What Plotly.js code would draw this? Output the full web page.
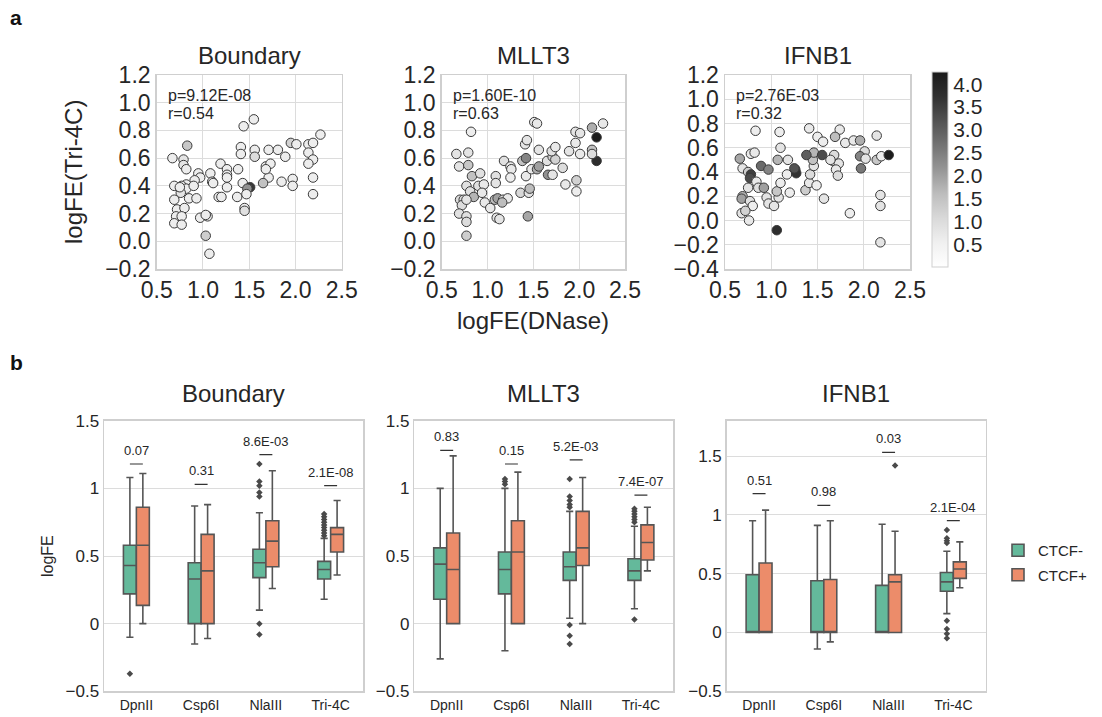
<!DOCTYPE html>
<html><head><meta charset="utf-8">
<script src="https://cdn.plot.ly/plotly-3.0.1.min.js"></script>
<style>html,body{margin:0;padding:0;background:#fff}#chart{width:1102px;height:717px}</style>
</head><body><div id="chart"></div>
<script>
// ---------- Panel a: scatter data (logFE DNase vs logFE Tri-4C, color = value) ----------
const boundaryX = [0.67,1.55,1.44,2.27,0.83,0.79,0.79,0.82,1.41,1.41,1.56,1.56,1.71,1.81,1.89,1.95,2.01,2.14,2.19,2.14,2.19,2.14,1.19,1.26,1.26,1.38,1.68,1.73,1.71,1.68,0.95,1.08,0.97,0.91,0.82,0.77,0.77,0.69,0.82,0.90,1.10,1.11,1.26,1.26,1.43,1.51,1.48,1.65,1.85,1.97,1.97,2.19,2.19,0.69,0.85,0.93,1.17,1.20,1.37,1.47,0.72,0.80,1.45,1.45,0.71,0.77,0.97,1.05,1.03,0.69,0.77,1.03,1.07,0.76,0.75];
const boundaryY = [0.60,0.88,0.83,0.77,0.69,0.59,0.55,0.52,0.68,0.63,0.66,0.61,0.66,0.66,0.61,0.71,0.70,0.70,0.71,0.64,0.59,0.56,0.56,0.52,0.48,0.52,0.54,0.56,0.46,0.52,0.49,0.49,0.46,0.44,0.41,0.40,0.37,0.40,0.38,0.40,0.43,0.42,0.39,0.46,0.42,0.39,0.38,0.42,0.43,0.45,0.40,0.46,0.34,0.30,0.31,0.31,0.32,0.32,0.32,0.34,0.23,0.24,0.24,0.22,0.18,0.18,0.17,0.18,0.19,0.13,0.12,0.04,-0.09,0.35,0.39];
const boundaryC = [0.6,0.6,0.6,0.6,1.4,0.8,0.8,0.6,0.6,0.6,0.6,1.0,0.6,0.6,0.6,1.2,0.6,0.6,0.6,0.6,0.6,0.6,0.6,0.6,0.6,0.6,0.6,0.6,0.6,0.6,0.6,0.6,0.6,0.6,0.6,0.8,0.9,0.6,0.6,0.6,0.6,0.6,0.6,0.6,0.6,3.6,2.2,1.5,0.6,0.6,0.6,0.6,0.6,0.6,0.6,0.6,0.6,0.6,0.6,0.6,0.6,0.6,0.6,0.9,0.6,0.6,0.6,0.6,0.6,0.6,0.6,1.3,0.6,0.8,0.6];

const mlltX = [0.66,0.69,0.79,0.82,0.79,0.83,0.92,0.77,0.81,0.85,0.90,0.96,0.94,0.70,0.74,0.72,0.77,0.69,0.77,0.77,0.77,0.97,1.03,1.08,1.11,1.17,1.22,1.10,1.13,1.09,1.09,1.18,1.25,1.26,1.25,1.36,1.45,1.46,1.44,1.38,1.42,1.41,1.43,1.51,1.54,1.56,1.42,1.48,1.54,1.56,1.66,1.71,1.65,1.71,1.74,1.70,1.74,1.82,1.85,1.89,1.96,2.01,1.96,2.01,1.97,1.97,2.14,2.26,2.19,2.19,2.14,2.14,1.16];
const mlltY = [0.63,0.54,0.64,0.79,0.55,0.47,0.49,0.40,0.36,0.32,0.40,0.41,0.35,0.30,0.30,0.26,0.30,0.20,0.18,0.14,0.04,0.28,0.24,0.30,0.31,0.30,0.31,0.17,0.16,0.47,0.42,0.58,0.54,0.52,0.46,0.35,0.35,0.38,0.18,0.58,0.60,0.70,0.73,0.86,0.85,0.66,0.47,0.52,0.52,0.54,0.48,0.48,0.58,0.61,0.59,0.65,0.68,0.53,0.41,0.65,0.79,0.78,0.71,0.63,0.44,0.36,0.82,0.85,0.75,0.58,0.66,0.63,0.28];
const mlltC = [0.8,0.8,0.8,0.6,1.4,1.5,0.9,0.9,0.9,1.7,0.9,0.7,0.7,1.0,1.0,1.0,0.8,0.9,0.9,1.0,1.3,0.7,0.7,1.6,2.0,0.9,0.7,0.8,0.8,0.9,0.8,0.9,0.7,0.7,0.6,1.1,0.8,1.6,1.9,1.5,2.4,0.8,0.8,0.7,0.7,0.8,0.7,0.7,1.8,2.0,2.2,0.8,0.9,1.2,1.2,0.9,0.7,1.0,0.7,0.8,0.8,0.8,0.7,0.7,1.2,0.6,1.8,0.7,4.2,3.8,1.5,1.0,1.6];

const ifnbX = [0.66,0.83,1.09,1.41,1.50,1.56,1.74,1.69,1.80,1.89,1.96,2.14,2.01,1.96,2.02,2.14,2.19,2.27,0.78,0.82,0.89,0.97,0.69,0.75,0.78,0.77,0.84,0.75,0.86,0.92,0.69,0.68,0.77,0.80,0.68,0.72,0.76,0.95,0.97,1.03,1.08,1.06,1.10,1.17,1.20,1.07,1.18,1.10,1.26,1.27,1.25,1.37,1.41,1.42,1.49,1.46,1.45,1.46,1.38,1.55,1.57,1.67,1.68,1.73,1.70,1.72,1.85,1.97,2.18,2.18,2.18,1.06,1.64];
const ifnbY = [0.51,0.74,0.73,0.76,0.69,0.65,0.75,0.69,0.64,0.66,0.66,0.70,0.57,0.53,0.51,0.50,0.53,0.54,0.55,0.56,0.45,0.42,0.43,0.40,0.38,0.35,0.32,0.27,0.27,0.27,0.20,0.18,0.16,0.12,0.06,0.08,0.00,0.19,0.14,0.12,0.19,0.24,0.31,0.38,0.23,0.50,0.50,0.60,0.42,0.39,0.43,0.25,0.31,0.38,0.29,0.45,0.50,0.56,0.54,0.54,0.18,0.49,0.54,0.47,0.42,0.37,0.06,0.43,0.21,0.12,-0.18,-0.08,0.50];
const ifnbC = [1.9,0.6,0.6,0.7,0.6,0.6,0.7,1.6,0.7,0.7,1.8,0.8,1.0,2.4,0.8,1.4,0.6,4.2,0.7,0.7,2.8,2.4,0.8,1.3,3.5,3.3,0.7,0.8,0.9,2.0,1.7,2.0,0.9,0.6,0.8,1.2,0.7,0.8,0.8,0.8,0.8,1.4,0.6,0.6,0.6,1.7,0.8,0.8,3.4,3.7,3.2,1.3,0.7,1.0,0.6,0.8,1.5,1.7,3.0,3.3,0.8,0.7,1.0,0.8,0.7,1.0,0.6,2.6,0.8,0.8,0.8,3.8,0.8];

const scatterTitles = ['Boundary','MLLT3','IFNB1'];
const pTexts = ['p=9.12E-08','p=1.60E-10','p=2.76E-03'];
const rTexts = ['r=0.54','r=0.63','r=0.32'];
const colorbarTicks = [0.5,1.0,1.5,2.0,2.5,3.0,3.5,4.0];

// ---------- Panel b: box plot summary statistics ----------
const categories = ['DpnII','Csp6I','NlaIII','Tri-4C'];
const groups = ['CTCF-','CTCF+'];
const boxTitles = ['Boundary','MLLT3','IFNB1'];

// Boundary
const bNegLo  = [-0.10,-0.15,0.10,0.18];
const bNegQ1  = [0.22,0.00,0.34,0.33];
const bNegMed = [0.43,0.33,0.45,0.40];
const bNegQ3  = [0.58,0.45,0.55,0.46];
const bNegHi  = [1.08,0.87,0.82,0.63];
const bPosLo  = [0.00,-0.11,0.26,0.36];
const bPosQ1  = [0.135,0.00,0.42,0.53];
const bPosMed = [0.58,0.39,0.61,0.66];
const bPosQ3  = [0.86,0.66,0.76,0.71];
const bPosHi  = [1.11,0.88,1.13,0.91];
const bNegOut = [[-0.37],[],[1.18,1.05,1.02,0.97,0.94,0.00,-0.08],[0.65,0.67,0.69,0.71,0.73,0.75,0.77,0.79,0.81]];
const bPosOut = [[],[],[],[]];
const bPvals  = ['0.07','0.31','8.6E-03','2.1E-08'];
const bPvalY  = [1.18,1.03,1.25,1.02];

// MLLT3
const mNegLo  = [-0.26,-0.20,0.04,0.11];
const mNegQ1  = [0.18,0.22,0.32,0.32];
const mNegMed = [0.44,0.40,0.42,0.39];
const mNegQ3  = [0.56,0.53,0.53,0.48];
const mNegHi  = [1.00,1.00,0.83,0.72];
const mPosLo  = [0.00,0.00,0.00,0.39];
const mPosQ1  = [0.00,0.00,0.43,0.47];
const mPosMed = [0.40,0.53,0.56,0.60];
const mPosQ3  = [0.67,0.76,0.83,0.73];
const mPosHi  = [1.24,1.12,1.08,0.86];
const mNegOut = [[],[1.03,1.05,1.07],[0.86,0.88,0.91,0.94,1.07,-0.01,-0.09,-0.15],[0.75,0.77,0.79,0.81,0.83,0.85,0.03]];
const mPosOut = [[],[],[],[]];
const mPvals  = ['0.83','0.15','5.2E-03','7.4E-07'];
const mPvalY  = [1.28,1.18,1.21,0.95];

// IFNB1
const iNegLo  = [0.00,-0.14,0.00,0.16];
const iNegQ1  = [0.00,0.00,0.00,0.35];
const iNegMed = [0.00,0.00,0.00,0.43];
const iNegQ3  = [0.49,0.44,0.40,0.51];
const iNegHi  = [0.95,0.91,0.92,0.69];
const iPosLo  = [0.00,-0.08,0.00,0.38];
const iPosQ1  = [0.00,0.00,0.00,0.46];
const iPosMed = [0.00,0.00,0.43,0.54];
const iPosQ3  = [0.59,0.45,0.49,0.60];
const iPosHi  = [1.04,0.95,0.86,0.77];
const iNegOut = [[],[],[],[0.87,0.80,0.78,0.76,0.10,0.03,-0.01,-0.05]];
const iPosOut = [[],[],[1.42],[]];
const iPvals  = ['0.51','0.98','0.03','2.1E-04'];
const iPvalY  = [1.18,1.08,1.53,0.95];

// ---------- styles ----------
const W = 1102, H = 717;
const FONT = 'Liberation Sans, Arial, sans-serif';
const TXT = '#262626';
const GRID = '#dcdcdc';
const FRAME = '#cfcfcf';
const colNeg = '#64b99b', colPos = '#ec8c6a';
const px = v => v / W;
const py = v => 1 - v / H;

const scatterDomX = [[156.7,341.7],[441.7,625],[725,910]];
const scatterDomY = [269,75];
const scatterYRange = [[-0.2,1.2],[-0.2,1.2],[-0.4,1.2]];
const boxDomX = [[104,363],[414.3,673.3],[726.7,985.7]];
const boxDomY = [691.3,420.7];
const boxYRange = [[-0.5,1.5],[-0.5,1.5],[-0.5,1.8]];

const traces = [];
const layout = {
  width: W, height: H,
  margin: {l:0,r:0,t:0,b:0},
  paper_bgcolor: '#fff', plot_bgcolor: '#fff',
  font: {family: FONT, color: TXT},
  showlegend: true,
  boxmode: 'overlay',
  coloraxis: {
    cmin: 0, cmax: 4.26,
    colorscale: [[0,'#ffffff'],[0.125,'#f0f0f0'],[0.25,'#d9d9d9'],[0.375,'#bdbdbd'],[0.5,'#969696'],[0.625,'#737373'],[0.75,'#525252'],[0.875,'#303030'],[1,'#1a1a1a']],
    colorbar: {
      x: px(932), xanchor: 'left', xpad: 0, y: py(169.8), yanchor: 'middle', ypad: 0,
      len: 195, lenmode: 'pixels', thickness: 16,
      outlinewidth: 1, outlinecolor: FRAME,
      tickvals: colorbarTicks, ticktext: colorbarTicks.map(v => v.toFixed(1)),
      ticks: '', tickfont: {size: 21, color: TXT, family: FONT}, ticklabelpad: 6
    }
  },
  legend: {x: px(998), y: py(534), xanchor: 'left', yanchor: 'top', font: {size: 15, color: TXT}, tracegroupgap: 2, bgcolor: 'rgba(0,0,0,0)'},
  annotations: [], shapes: []
};

const sData = [[boundaryX,boundaryY,boundaryC],[mlltX,mlltY,mlltC],[ifnbX,ifnbY,ifnbC]];
sData.forEach((d, i) => {
  const n = i + 1;
  const xa = 'xaxis' + (n === 1 ? '' : n), ya = 'yaxis' + (n === 1 ? '' : n);
  layout[xa] = {
    domain: [px(scatterDomX[i][0]), px(scatterDomX[i][1])], anchor: 'y' + (n===1?'':n),
    range: [0.5, 2.5], dtick: 0.5, tick0: 0.5, tickformat: '.1f',
    showgrid: true, gridcolor: GRID, gridwidth: 1, zeroline: false,
    showline: true, mirror: true, linecolor: FRAME, linewidth: 1.5,
    ticks: '', tickfont: {size: 23, color: TXT}, fixedrange: true
  };
  layout[ya] = {
    domain: [py(scatterDomY[0]), py(scatterDomY[1])], anchor: 'x' + (n===1?'':n),
    range: scatterYRange[i], dtick: 0.2, tick0: 0, tickformat: '.1f',
    showgrid: true, gridcolor: GRID, gridwidth: 1, zeroline: false,
    showline: true, mirror: true, linecolor: FRAME, linewidth: 1.5,
    ticks: '', tickfont: {size: 23, color: TXT}, fixedrange: true
  };
  traces.push({
    type: 'scatter', mode: 'markers', x: d[0], y: d[1],
    xaxis: 'x' + (n===1?'':n), yaxis: 'y' + (n===1?'':n),
    marker: {color: d[2], coloraxis: 'coloraxis', size: 9.5, line: {color: '#3a3a3a', width: 1}},
    showlegend: false, hoverinfo: 'skip'
  });
  const cx = (scatterDomX[i][0] + scatterDomX[i][1]) / 2;
  layout.annotations.push({text: scatterTitles[i], xref:'paper', yref:'paper', x: px(cx), y: py(55), xanchor:'center', yanchor:'middle', showarrow:false, font:{size:24, color:TXT}});
  layout.annotations.push({text: pTexts[i], xref:'paper', yref:'paper', x: px(scatterDomX[i][0]+9), y: py(95), xanchor:'left', yanchor:'middle', showarrow:false, font:{size:16, color:TXT}});
  layout.annotations.push({text: rTexts[i], xref:'paper', yref:'paper', x: px(scatterDomX[i][0]+9), y: py(113), xanchor:'left', yanchor:'middle', showarrow:false, font:{size:16, color:TXT}});
});

layout.annotations.push({text:'logFE(DNase)', xref:'paper', yref:'paper', x: px(533), y: py(320), xanchor:'center', yanchor:'middle', showarrow:false, font:{size:24,color:TXT}});
layout.annotations.push({text:'logFE(Tri-4C)', xref:'paper', yref:'paper', x: px(74), y: py(172), xanchor:'center', yanchor:'middle', textangle:-90, showarrow:false, font:{size:24,color:TXT}});
layout.annotations.push({text:'<b>a</b>', xref:'paper', yref:'paper', x: px(8), y: py(18), xanchor:'left', yanchor:'middle', showarrow:false, font:{size:21,color:'#111'}});
layout.annotations.push({text:'<b>b</b>', xref:'paper', yref:'paper', x: px(8), y: py(362), xanchor:'left', yanchor:'middle', showarrow:false, font:{size:21,color:'#111'}});
layout.annotations.push({text:'logFE', xref:'paper', yref:'paper', x: px(47), y: py(556), xanchor:'center', yanchor:'middle', textangle:-90, showarrow:false, font:{size:16,color:TXT}});

const bData = [
  {neg:[bNegLo,bNegQ1,bNegMed,bNegQ3,bNegHi], pos:[bPosLo,bPosQ1,bPosMed,bPosQ3,bPosHi], negOut:bNegOut, posOut:bPosOut, p:bPvals, py:bPvalY},
  {neg:[mNegLo,mNegQ1,mNegMed,mNegQ3,mNegHi], pos:[mPosLo,mPosQ1,mPosMed,mPosQ3,mPosHi], negOut:mNegOut, posOut:mPosOut, p:mPvals, py:mPvalY},
  {neg:[iNegLo,iNegQ1,iNegMed,iNegQ3,iNegHi], pos:[iPosLo,iPosQ1,iPosMed,iPosQ3,iPosHi], negOut:iNegOut, posOut:iPosOut, p:iPvals, py:iPvalY}
];
const OFF = 0.1, BW = 0.2;
bData.forEach((d, i) => {
  const n = i + 4;
  const xr = 'x' + n, yr = 'y' + n;
  layout['xaxis' + n] = {
    domain: [px(boxDomX[i][0]), px(boxDomX[i][1])], anchor: yr,
    range: [-0.5, 3.5], tickvals: categories.map((c, k) => k), ticktext: categories,
    showgrid: false, zeroline: false, showline: true, mirror: true, linecolor: FRAME, linewidth: 1.5,
    ticks: '', tickfont: {size: 14, color: TXT}, fixedrange: true
  };
  layout['yaxis' + n] = {
    domain: [py(boxDomY[0]), py(boxDomY[1])], anchor: xr,
    range: boxYRange[i], dtick: 0.5, tick0: 0,
    showgrid: true, gridcolor: GRID, gridwidth: 1, zeroline: false,
    showline: true, mirror: true, linecolor: FRAME, linewidth: 1.5,
    ticks: '', tickfont: {size: 17, color: TXT}, fixedrange: true
  };
  [[d.neg, -OFF, colNeg, groups[0], d.negOut], [d.pos, OFF, colPos, groups[1], d.posOut]].forEach(g => {
    const s = g[0];
    traces.push({
      type: 'box', xaxis: xr, yaxis: yr, name: g[3], legendgroup: g[3], showlegend: i === 0,
      x: categories.map((c, k) => k + g[1]),
      lowerfence: s[0], q1: s[1], median: s[2], q3: s[3], upperfence: s[4],
      width: BW, whiskerwidth: 0.55, boxpoints: false,
      fillcolor: g[2], line: {color: '#555555', width: 1.6}, hoverinfo: 'skip'
    });
    const ox = [], oy = [];
    g[4].forEach((arr, k) => arr.forEach(v => { ox.push(k + g[1]); oy.push(v); }));
    if (ox.length) traces.push({
      type: 'scatter', mode: 'markers', xaxis: xr, yaxis: yr, x: ox, y: oy, showlegend: false, hoverinfo: 'skip',
      marker: {symbol: 'diamond', size: 5, color: '#4a4a4a', line: {width: 0}}
    });
  });
  d.p.forEach((t, k) => {
    layout.shapes.push({type:'line', xref: xr, yref: yr, x0: k - 0.1, x1: k + 0.1, y0: d.py[k], y1: d.py[k], line:{color:'#333', width:1.2}});
    layout.annotations.push({text: t, xref: xr, yref: yr, x: k, y: d.py[k], yshift: 4, xanchor:'center', yanchor:'bottom', showarrow:false, font:{size:13, color:TXT}});
  });
  const cx = (boxDomX[i][0] + boxDomX[i][1]) / 2;
  layout.annotations.push({text: boxTitles[i], xref:'paper', yref:'paper', x: px(cx), y: py(393), xanchor:'center', yanchor:'middle', showarrow:false, font:{size:24, color:TXT}});
});

Plotly.newPlot('chart', traces, layout, {displayModeBar: false, staticPlot: true});
</script></body></html>
